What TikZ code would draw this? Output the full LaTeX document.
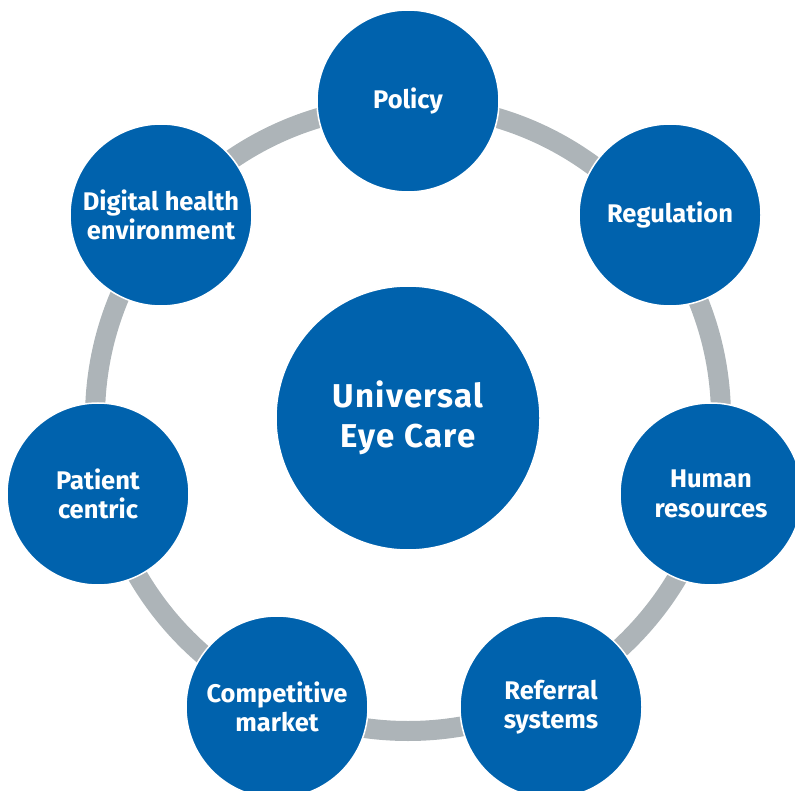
\documentclass[tikz,border=0pt]{standalone}
\usepackage{fontspec}
\setmainfont{Fira Sans}
\definecolor{eyeblue}{HTML}{0062AD}
\definecolor{ringgray}{HTML}{ADB4B8}
\begin{document}
\begin{tikzpicture}[x=1pt,y=-1pt,
  outer/.style={circle,fill=eyeblue,draw=white,line width=1.5pt,minimum size=182pt,inner sep=0pt,
    text=white,align=center,font=\bfseries\fontsize{25.5}{29.5}\selectfont},
  hub/.style={circle,fill=eyeblue,draw=white,line width=1.5pt,minimum size=264pt,inner sep=0pt,
    text=white,align=center,font=\bfseries\fontsize{33}{40}\selectfont\addfontfeature{LetterSpace=4}}]
\useasboundingbox (0,0) rectangle (795,791);
\coordinate (c) at (408,418);
\draw[ringgray,line width=20pt] (c) circle[radius=313];
\node[hub] (hub) at (c) {Universal\\Eye Care};
\node[outer] (policy) at (408,101) {Policy};
\node[outer] (reg) at (670,215) {Regulation};
\node[outer] (hr) at (711,494) {Human\\resources};
\node[outer] (ref) at (551,707) {Referral\\systems};
\node[outer] (comp) at (277,707) {Competitive\\market};
\node[outer] (pat) at (98,494) {Patient\\centric};
\node[outer] (dig) at (161,215) {Digital health\\environment};
\end{tikzpicture}
\end{document}
